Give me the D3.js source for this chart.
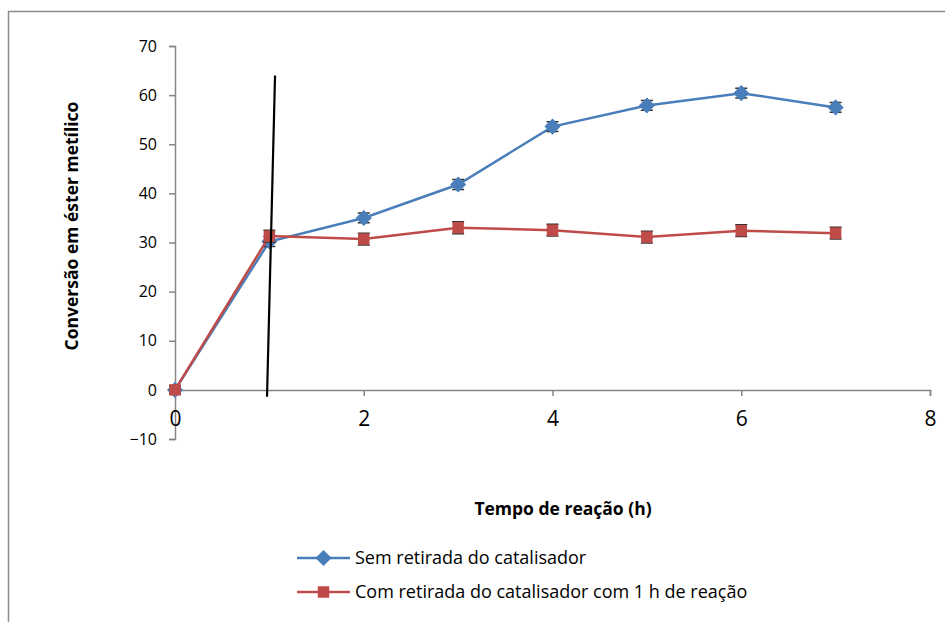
<!DOCTYPE html>
<html>
<head>
<meta charset="utf-8">
<script src="https://cdn.jsdelivr.net/npm/d3@7"></script>
<style>
  html, body { margin: 0; padding: 0; background: #fff; }
  svg { display: block; font-family: "Open Sans", Lato, sans-serif; }
</style>
</head>
<body>
<svg id="chart" width="945" height="622"></svg>
<script>
// Reaction time (h)
const hours = [0, 1, 2, 3, 4, 5, 6, 7];
// Conversion to methyl ester (%)
const semRetirada = [0, 30.2, 35.0, 41.8, 53.6, 57.9, 60.4, 57.5];
const comRetirada = [0, 31.3, 30.7, 33.0, 32.5, 31.1, 32.4, 31.9];
// Small error bars on each point
const erroSem = [0.8, 1.0, 1.0, 1.0, 1.0, 1.0, 1.0, 1.0];
const erroCom = [0.8, 1.2, 1.2, 1.2, 1.2, 1.2, 1.2, 1.2];
const xTicks = [0, 2, 4, 6, 8];
const yTicks = [-10, 0, 10, 20, 30, 40, 50, 60, 70];
// Hand-drawn marker line at the catalyst removal time (data units)
const removalLineX = [1.06, 0.975];
const removalLineY = [64.0, -1.4];

const seriesNames = ["Sem retirada do catalisador", "Com retirada do catalisador com 1 h de reação"];
const blue = "#4a7ebb", red = "#be4b48";

const svg = d3.select("#chart");

// Outer chart border
svg.append("rect")
  .attr("x", 8.5).attr("y", 11.5).attr("width", 960).attr("height", 640)
  .attr("fill", "none").attr("stroke", "#8c8c8c").attr("stroke-width", 1.5);

const x = d3.scaleLinear().domain([0, 8]).range([175, 930]);
const y = d3.scaleLinear().domain([-10, 70]).range([439, 46]);

const axisColor = "#868686";
const font = "'Open Sans', Lato, sans-serif";

// Y axis
const yAxis = svg.append("g").attr("transform", `translate(${x(0)},0)`)
  .call(d3.axisLeft(y).tickValues(yTicks).tickSize(6).tickPadding(12));
yAxis.select(".domain").attr("stroke", axisColor).attr("stroke-width", 1.5);
yAxis.selectAll(".tick line").attr("stroke", axisColor).attr("stroke-width", 1.5);
yAxis.selectAll(".tick text").attr("font-size", 16).attr("fill", "#000")
  .attr("font-family", font);

// X axis crossing at y = 0
const xAxis = svg.append("g").attr("transform", `translate(0,${y(0)})`)
  .call(d3.axisBottom(x).tickValues(xTicks).tickSize(6).tickSizeOuter(6).tickPadding(15));
xAxis.select(".domain").attr("stroke", axisColor).attr("stroke-width", 1.5);
xAxis.selectAll(".tick line").attr("stroke", axisColor).attr("stroke-width", 1.5);
xAxis.selectAll(".tick text").attr("font-size", 21).attr("fill", "#000")
  .attr("font-family", font);

// Axis titles
svg.append("text")
  .attr("transform", `translate(78,226) rotate(-90)`)
  .attr("text-anchor", "middle").attr("font-weight", "bold").attr("font-size", 17.5)
  .text("Conversão em éster metílico");
svg.append("text")
  .attr("x", 563).attr("y", 515)
  .attr("text-anchor", "middle").attr("font-weight", "bold").attr("font-size", 17.5)
  .text("Tempo de reação (h)");

const line = d3.line().x(d => x(d[0])).y(d => y(d[1]));

function marker(sel, shape, color) {
  if (shape === "diamond") {
    sel.attr("d", d3.symbol().type(d3.symbolSquare).size(130))
      .attr("fill", color)
      .attr("transform", function () {
        return d3.select(this).attr("transform") + " rotate(45)";
      });
  } else {
    sel.attr("d", d3.symbol().type(d3.symbolSquare).size(132)).attr("fill", color);
  }
}

function drawSeries(values, errs, color, shape) {
  const pts = hours.map((h, i) => [h, values[i], errs[i]]);
  const g = svg.append("g");
  g.append("path").datum(pts).attr("d", line)
    .attr("fill", "none").attr("stroke", color).attr("stroke-width", 2.5);
  // error bars, mostly tucked behind the markers
  g.selectAll("path.err").data(pts).join("path").attr("class", "err")
    .attr("d", d => {
      const cx = x(d[0]), t = y(d[1] + d[2]), b = y(d[1] - d[2]);
      return `M${cx - 6},${t}H${cx + 6}M${cx},${t}V${b}M${cx - 6},${b}H${cx + 6}`;
    })
    .attr("stroke", "#333").attr("stroke-width", 1.5).attr("fill", "none");
  const mk = g.selectAll("path.mk").data(pts).join("path").attr("class", "mk")
    .attr("transform", d => `translate(${x(d[0])},${y(d[1])})`);
  marker(mk, shape, color);
}

drawSeries(semRetirada, erroSem, blue, "diamond");
drawSeries(comRetirada, erroCom, red, "square");

// Removal-time line
svg.append("line")
  .attr("x1", x(removalLineX[0])).attr("y1", y(removalLineY[0]))
  .attr("x2", x(removalLineX[1])).attr("y2", y(removalLineY[1]))
  .attr("stroke", "#000").attr("stroke-width", 2.2);

// Legend
const legend = svg.append("g");
const legendItems = [
  { name: seriesNames[0], color: blue, shape: "diamond" },
  { name: seriesNames[1], color: red, shape: "square" }
];
legendItems.forEach((it, i) => {
  const ly = 558 + i * 34;
  legend.append("line").attr("x1", 297).attr("x2", 350).attr("y1", ly).attr("y2", ly)
    .attr("stroke", it.color).attr("stroke-width", 2.5);
  const m = legend.append("path").attr("transform", `translate(323.5,${ly})`);
  marker(m, it.shape, it.color);
  legend.append("text").attr("x", 355).attr("y", ly + 6).attr("font-size", 18)
    .text(it.name);
});
</script>
</body>
</html>
